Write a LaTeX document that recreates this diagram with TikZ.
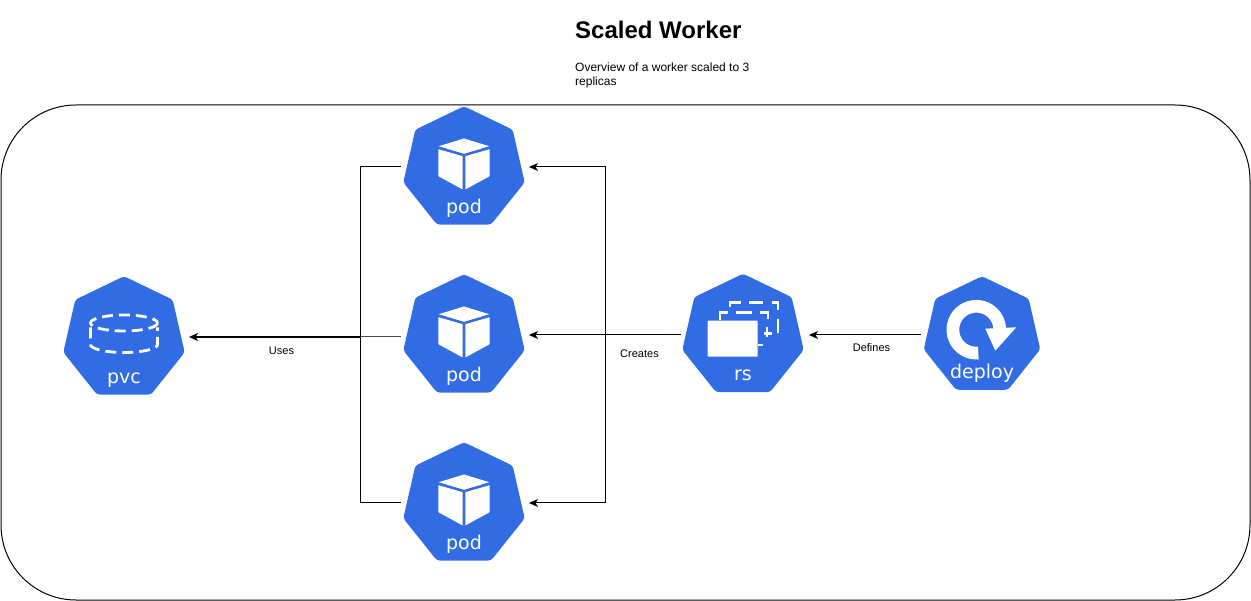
\documentclass[tikz,border=0pt]{standalone}
\usepackage{fontspec}
\setmainfont{Liberation Sans}
\newfontfamily\kubefont{DejaVu Sans}
\usetikzlibrary{shapes.geometric,arrows.meta}
\definecolor{kubeblue}{HTML}{326CE5}
\tikzset{
  x=1pt,y=-1pt,
  kube/.style={regular polygon,regular polygon sides=7,minimum size=124.5pt,inner sep=0pt,outer sep=0pt,fill=kubeblue,rounded corners=3pt},
  kubelabel/.style={text=white,font=\kubefont\fontsize{19}{19}\selectfont,anchor=base,inner sep=0pt},
  conn/.style={draw=black,line width=1pt},
  arr/.style={conn,-{Stealth[length=9pt,width=8pt,inset=2.5pt]}},
  caption/.style={font=\fontsize{11}{13}\selectfont,inner sep=0pt},
  rsdash/.style={white,line width=2.8pt},
  pvcdash/.style={white,line width=2.8pt,dash pattern=on 11pt off 6pt},
  pics/podicon/.style={code={
    \fill[white] (0,-30) -- (25.3,-22.3) -- (0,-14.7) -- (-25.3,-22.3) -- cycle;
    \fill[white] (-25.7,-19.3) -- (-1.3,-12.3) -- (-1.3,21) -- (-25.7,7.7) -- cycle;
    \fill[white] (25.7,-19.3) -- (1.3,-12.3) -- (1.3,21) -- (25.7,7.7) -- cycle;
  }},
  pics/pvcicon/.style={code={
    \draw[pvcdash] (0,-15.5) ellipse [x radius=33.5,y radius=8];
    \draw[pvcdash] (-33.5,-11) -- (-33.5,6)
      plot[domain=180:0,samples=40] ({33.5*cos(\x)},{6+8*sin(\x)}) -- (33.5,-11);
  }},
  pics/rsicon/.style={code={
    \fill[white,rounded corners=0.8pt] (-35.3,-15.3) rectangle (14.7,20.7);
    \draw[rsdash] (-23,-16) -- (-23,-23.5) -- (-15,-23.5);
    \draw[rsdash] (-7,-23.5) -- (9,-23.5);
    \draw[rsdash] (17,-23.5) -- (25,-23.5) -- (25,-16.5);
    \draw[rsdash] (24,-9) -- (24,1);
    \draw[rsdash] (21,-2.5) -- (29,-2.5);
    \draw[rsdash] (14.5,9) -- (20,9);
    \draw[rsdash] (-13,-29) -- (-13,-33.7) -- (-2,-33.7);
    \draw[rsdash] (6,-33.7) -- (20,-33.7);
    \draw[rsdash] (29,-33.7) -- (35,-33.7) -- (35,-26);
    \draw[rsdash] (35,-17) -- (35,-3);
  }},
  pics/deployicon/.style={code={
    \draw[white,line width=12.7pt] plot[domain=85:358,samples=60] ({-5.7+23.4*cos(\x)},{-6.3+23.4*sin(\x)});
    \fill[white] (3.3,-7.3) -- (34.3,-8.7) -- (13.3,14.7) -- cycle;
  }},
}
\begin{document}
\begin{tikzpicture}
\useasboundingbox (0,0) rectangle (1251,601);
\fill[white] (0,0) rectangle (1251,601);

\node[draw=black,line width=1pt,rounded corners=75pt,minimum width=1249pt,minimum height=495pt,inner sep=0pt,outer sep=0pt] (frame) at (625.5,352.5) {};

\node[font=\bfseries\fontsize{24}{28}\selectfont,anchor=base west,inner sep=0pt] (title) at (575,39) {Scaled Worker};
\node[font=\fontsize{12}{14}\selectfont,anchor=base west,inner sep=0pt] (sub1) at (575,72) {Overview of a worker scaled to 3};
\node[font=\fontsize{12}{14}\selectfont,anchor=base west,inner sep=0pt] (sub2) at (575,86) {replicas};

\node[kube] (podA) at (464,168.5) {};
\node[kube] (podB) at (464,336.5) {};
\node[kube] (podC) at (464,504.5) {};
\node[kube] (pvc) at (124,338.5) {};
\node[kube] (rs) at (743,336) {};
\node[kube,minimum size=119.5pt] (deploy) at (982,336) {};

\pic at (podA.center) {podicon};
\pic at (podB.center) {podicon};
\pic at (podC.center) {podicon};
\pic at (pvc.center) {pvcicon};
\pic at (rs.center) {rsicon};
\pic at (deploy.center) {deployicon};

\node[kubelabel] (podAl) at (464,213.5) {pod};
\node[kubelabel] (podBl) at (464,381.5) {pod};
\node[kubelabel] (podCl) at (464,549.5) {pod};
\node[kubelabel] (pvcl) at (124,383.5) {pvc};
\node[kubelabel] (rsl) at (743,381) {rs};
\node[kubelabel] (deployl) at (982,379) {deploy};

\coordinate (podAin) at (529,167);
\coordinate (podBin) at (529,335);
\coordinate (podCin) at (529,503);
\coordinate (rsout) at (681,335);
\coordinate (rsin) at (809,335);
\coordinate (deployout) at (921,335);
\coordinate (split) at (605,335);
\coordinate (splitA) at (605,167);
\coordinate (splitC) at (605,503);
\coordinate (podAout) at (401,167);
\coordinate (podBout) at (401,337);
\coordinate (podCout) at (401,503);
\coordinate (joinA) at (360.5,167);
\coordinate (joinB) at (360.5,337);
\coordinate (joinC) at (360.5,503);
\coordinate (pvcin) at (189,337);

\draw[arr] (deployout) -- (rsin);
\draw[arr] (rsout) -- (podBin);
\draw[arr] (split) -- (splitA) -- (podAin);
\draw[arr] (split) -- (splitC) -- (podCin);
\draw[conn] (podAout) -- (joinA) -- (joinC) -- (podCout);
\draw[conn,draw=black!70] (podBout) -- (joinB);
\draw[arr,line width=1.5pt] (joinB) -- (pvcin);

\node[caption] (uses) at (281.5,351) {Uses};
\node[caption] (creates) at (639.5,353.5) {Creates};
\node[caption] (defines) at (871.5,347.5) {Defines};
\end{tikzpicture}
\end{document}
